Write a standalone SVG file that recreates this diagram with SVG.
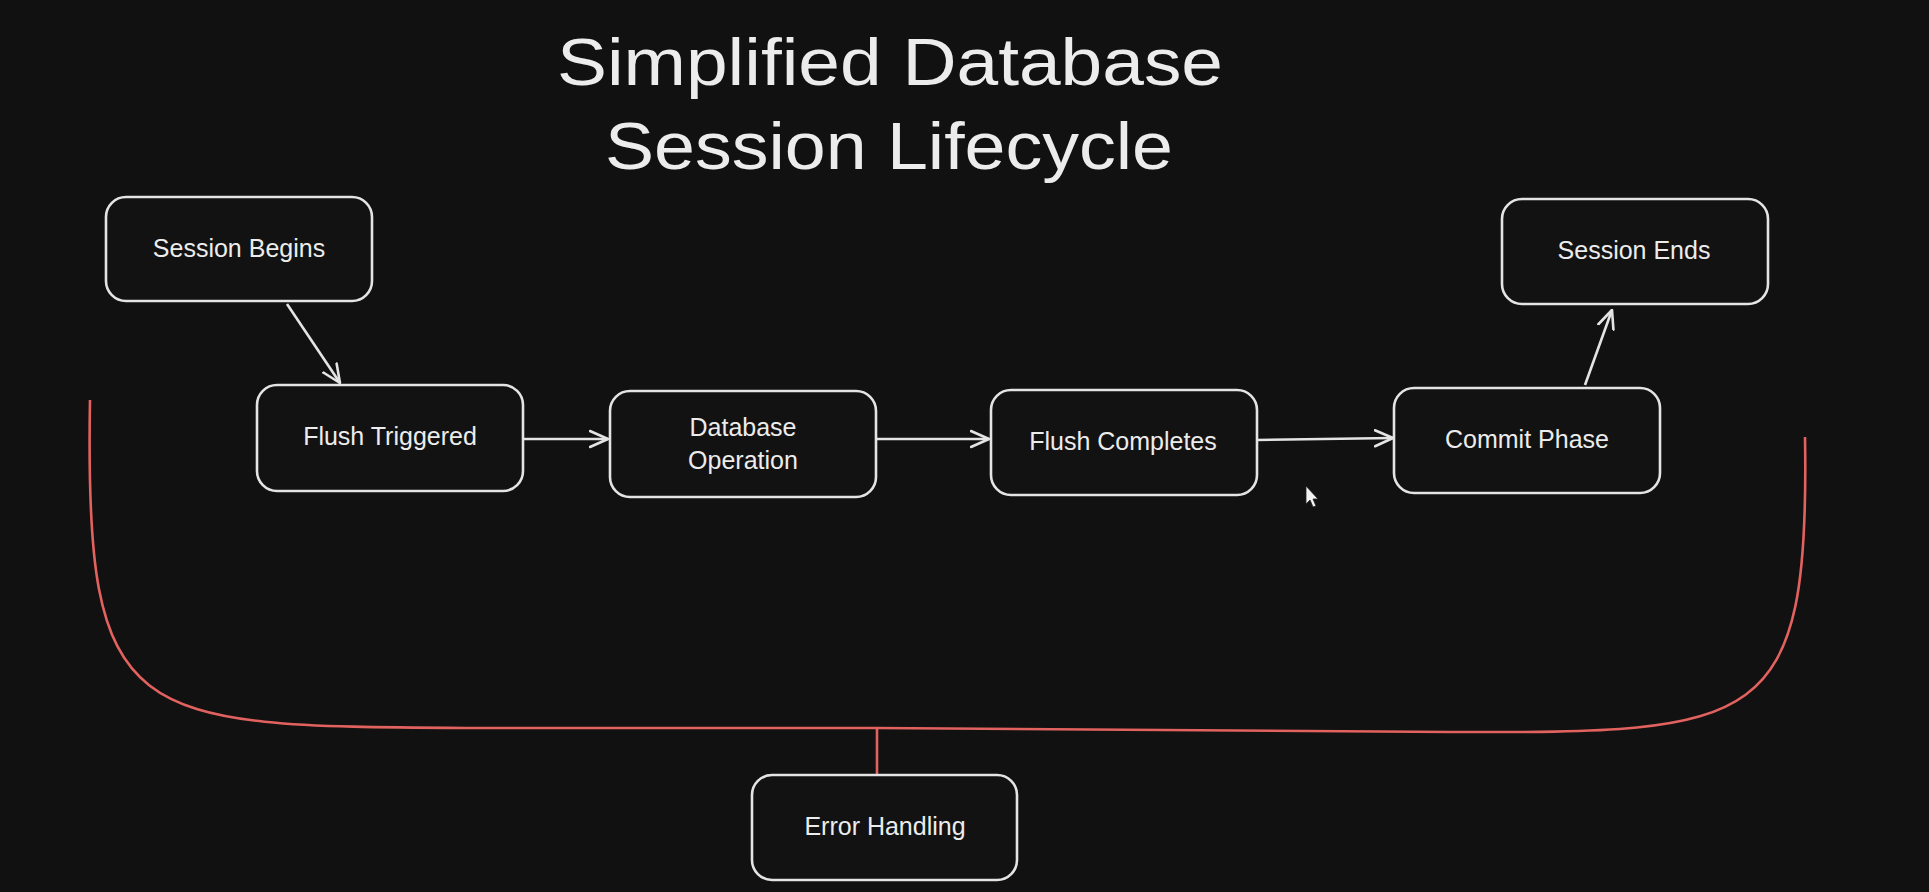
<svg xmlns="http://www.w3.org/2000/svg" width="1929" height="892" viewBox="0 0 1929 892">
<defs>
<style>
.box{fill:#121212;stroke:#e4e4e4;stroke-width:2.6}
.lbl{font-family:"Liberation Sans","Noto Sans",sans-serif;font-size:25px;fill:#ececec;text-anchor:middle}
.title{font-family:"Liberation Sans","Noto Sans",sans-serif;font-size:66px;fill:#ececec;text-anchor:middle}
.conn{stroke:#e4e4e4;stroke-width:2.6;fill:none;marker-end:url(#arr)}
.red{stroke:#e2625f;stroke-width:2.6;fill:none}
</style>
<marker id="arr" viewBox="0 0 20 20" refX="19" refY="10" markerWidth="20" markerHeight="20" markerUnits="userSpaceOnUse" orient="auto">
<path d="M1,2 L19,10 L1,18" fill="none" stroke="#e4e4e4" stroke-width="2.6" stroke-linecap="round" stroke-linejoin="round"/>
</marker>
</defs>
<rect width="1929" height="892" fill="#111111"/>
<g id="title">
<text class="title" x="890" y="85" textLength="666" lengthAdjust="spacingAndGlyphs">Simplified Database</text>
<text class="title" x="889" y="169" textLength="568" lengthAdjust="spacingAndGlyphs">Session Lifecycle</text>
</g>
<g id="connectors">
<path class="conn" d="M287,304 L340,383"/>
<path class="conn" d="M523,439 L608,439"/>
<path class="conn" d="M876,439 L989,439"/>
<path class="conn" d="M1257,440 L1393,438"/>
<path class="conn" d="M1585,385 L1612,310"/>
<path class="red" d="M90,400 C84,730 130,726 480,728 L877,728 L1450,732 C1760,733 1810,730 1805,437"/>
<path class="red" d="M877,728 L877,775"/>
</g>
<g id="session-begins">
<rect class="box" x="106" y="197" width="266" height="104" rx="20"/>
<text class="lbl" x="239" y="257">Session Begins</text>
</g>
<g id="flush-triggered">
<rect class="box" x="257" y="385" width="266" height="106" rx="20"/>
<text class="lbl" x="390" y="445">Flush Triggered</text>
</g>
<g id="database-operation">
<rect class="box" x="610" y="391" width="266" height="106" rx="20"/>
<text class="lbl" x="743" y="436">Database</text>
<text class="lbl" x="743" y="469">Operation</text>
</g>
<g id="flush-completes">
<rect class="box" x="991" y="390" width="266" height="105" rx="20"/>
<text class="lbl" x="1123" y="450">Flush Completes</text>
</g>
<g id="commit-phase">
<rect class="box" x="1394" y="388" width="266" height="105" rx="20"/>
<text class="lbl" x="1527" y="448">Commit Phase</text>
</g>
<g id="session-ends">
<rect class="box" x="1502" y="199" width="266" height="105" rx="20"/>
<text class="lbl" x="1634" y="259">Session Ends</text>
</g>
<g id="error-handling">
<rect class="box" x="752" y="775" width="265" height="105" rx="20"/>
<text class="lbl" x="885" y="835">Error Handling</text>
</g>
<path d="M1306,486 L1306,504 L1310,500 L1313,507 L1316,506 L1313,499 L1318,499 Z" fill="#f2f2f2" stroke="#222" stroke-width="0.8"/>
</svg>
